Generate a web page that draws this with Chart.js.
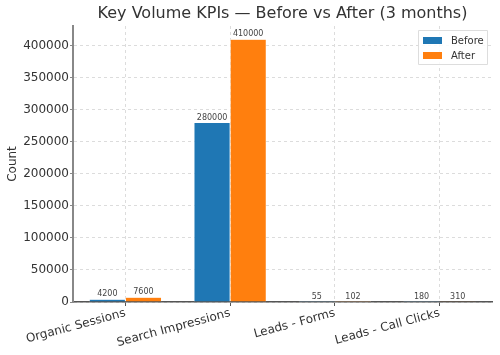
<!DOCTYPE html>
<html><head><meta charset="utf-8">
<script src="https://cdn.jsdelivr.net/npm/chart.js@4/dist/chart.umd.min.js"></script>
<style>html,body{margin:0;padding:0;background:#fff}#wrap{width:500px;height:355px}</style>
</head><body><div id="wrap"><canvas id="c" width="500" height="355"></canvas></div>
<script>
const categories = ["Organic Sessions", "Search Impressions", "Leads - Forms", "Leads - Call Clicks"];
const beforeValues = [4200, 280000, 55, 180];
const afterValues = [7600, 410000, 102, 310];
const seriesNames = ["Before", "After"];
const yTickValues = [0, 50000, 100000, 150000, 200000, 250000, 300000, 350000, 400000];
const titleText = "Key Volume KPIs \u2014 Before vs After (3 months)";
const yTitle = "Count";
const yMax = 430500;

const FONT = "'DejaVu Sans', sans-serif";

const extras = {
  id: 'extras',
  afterDatasetsDraw(chart) {
    const ctx = chart.ctx;
    const area = chart.chartArea;
    ctx.save();
    ctx.font = "8px " + FONT;
    ctx.fillStyle = "#444";
    ctx.textAlign = "center";
    ctx.textBaseline = "bottom";
    chart.data.datasets.forEach((ds, di) => {
      const meta = chart.getDatasetMeta(di);
      meta.data.forEach((el, i) => {
        ctx.fillText(String(ds.data[i]), el.x, el.y - 1);
      });
    });
    ctx.font = "16px " + FONT;
    ctx.fillStyle = "#333";
    ctx.textBaseline = "middle";
    ctx.fillText(titleText, (area.left + area.right) / 2, 14);
    const lx = area.right - 74, ly = area.top + 4, lw = 69, lh = 34;
    ctx.fillStyle = "rgba(255,255,255,0.85)";
    ctx.strokeStyle = "#ddd";
    ctx.lineWidth = 1;
    ctx.beginPath();
    ctx.rect(lx + 0.5, ly + 0.5, lw, lh);
    ctx.fill(); ctx.stroke();
    ctx.font = "10px " + FONT;
    ctx.textAlign = "left";
    chart.data.datasets.forEach((ds, di) => {
      const y = ly + 10 + di * 15;
      ctx.fillStyle = ds.backgroundColor;
      ctx.fillRect(lx + 5, y - 3, 19, 7);
      ctx.fillStyle = "#333";
      ctx.fillText(ds.label, lx + 33, y + 1);
    });
    ctx.restore();
  }
};

new Chart(document.getElementById('c'), {
  type: 'bar',
  data: {
    labels: categories,
    datasets: [
      { label: seriesNames[0], data: beforeValues, backgroundColor: '#1f77b4', borderColor: '#ffffff', borderWidth: 0.5 },
      { label: seriesNames[1], data: afterValues, backgroundColor: '#ff7f0e', borderColor: '#ffffff', borderWidth: 0.5 }
    ]
  },
  options: {
    responsive: false,
    animation: false,
    devicePixelRatio: 1,
    layout: { padding: { top: 26, right: 8, left: 0, bottom: 0 } },
    datasets: { bar: { categoryPercentage: 0.69, barPercentage: 1.0 } },
    plugins: { legend: { display: false }, title: { display: false }, tooltip: { enabled: false } },
    scales: {
      x: {
        offset: true,
        grid: { offset: false, color: '#dcdcdc', tickLength: 4, tickColor: '#555', drawTicks: true },
        border: { color: '#555', width: 1.5, dash: [3, 3] },
        ticks: { font: { family: FONT, size: 12 }, color: '#333', minRotation: 15, maxRotation: 15, padding: 0 },
        afterFit(scale) { scale.height = 53; }
      },
      y: {
        min: 0, max: yMax,
        grid: { color: '#dcdcdc', tickLength: 3, tickColor: '#888' },
        border: { color: '#888', width: 2, dash: [3, 3] },
        ticks: { autoSkip: false, font: { family: FONT, size: 12 }, color: '#333', padding: 1, callback: (v) => String(v) },
        afterBuildTicks(scale) { scale.ticks = yTickValues.map(v => ({ value: v })); },
        title: { display: true, text: yTitle, font: { family: FONT, size: 12 }, color: '#333', padding: { top: 6, bottom: 2 } },
        afterFit(scale) { scale.width = 73; }
      }
    }
  },
  plugins: [extras]
});
</script></body></html>
